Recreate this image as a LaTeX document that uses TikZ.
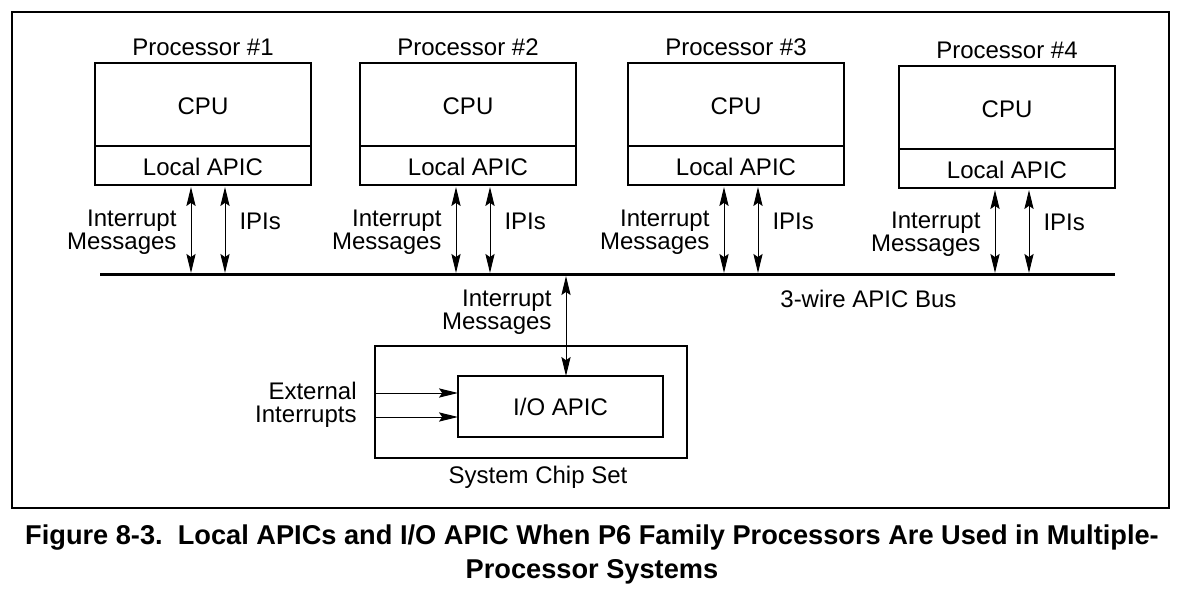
\documentclass[tikz,border=0pt]{standalone}
\usepackage{fontspec}
\setmainfont{Liberation Sans}
\usetikzlibrary{arrows.meta}
\usetikzlibrary{positioning}
\tikzset{
	box/.style={draw,line width=0.65pt,minimum width=108pt,inner sep=0pt,outer sep=0pt,
		font=\fontsize{12}{13}\selectfont},
	lbl/.style={inner sep=0pt,align=right,font=\fontsize{12}{11.5}\selectfont},
	biarrow/.style={line width=0.5pt,
		{Stealth[length=9.5pt,width=4.6pt,inset=1.6pt]}-{Stealth[length=9.5pt,width=4.6pt,inset=1.6pt]}},
	inarrow/.style={line width=0.5pt,-{Stealth[length=9.5pt,width=4.6pt,inset=1.6pt]}}
}

\begin{document}
\begin{tikzpicture}[x=0.5pt,y=-0.5pt]
	\useasboundingbox (0,0) rectangle (1178,610);
	\draw[line width=0.75pt] (12,12) rectangle (1169,508);
	
	% the bus
	\coordinate (busL) at (100,274.5);
	\coordinate (busR) at (1115,274.5);
	\draw[line width=1.7pt] (busL) -- (busR);
	\node[lbl,anchor=west] (buslbl) at (780,299) {3-wire APIC Bus};
	
	% processors
	\foreach \n/\px/\py in {1/95/63,2/360/63,3/628/63,4/899/66}{
		\node[box,minimum height=41.5pt,text height=10.5pt,text depth=0pt,anchor=north west] (cpu\n) at (\px,\py) {CPU};
		\node[box,minimum height=19.5pt,text height=10pt,text depth=0pt,anchor=north] (apic\n) at (cpu\n.south) {Local APIC};
		\node[lbl,anchor=base] (proc\n) at ([yshift=3.8pt]cpu\n.north) {Processor \#\n};
		\coordinate (ima\n) at ([xshift=-6pt,yshift=-1pt]apic\n.south);
		\coordinate (ipa\n) at ([xshift=11pt,yshift=-1pt]apic\n.south);
		\draw[biarrow,shorten >=0.8pt] (ima\n) -- (ima\n |- busL)
			node[lbl,midway,left=7pt,yshift=-0.8pt] (im\n) {Interrupt\\Messages};
		\draw[biarrow,shorten >=0.8pt] (ipa\n) -- (ipa\n |- busL)
			node[lbl,midway,anchor=west,xshift=7pt,yshift=4.7pt] (ipi\n) {IPIs};
	}
	
	% system chip set
	\node[box,minimum width=156pt,minimum height=56pt,anchor=north west] (chip) at (375,346) {};
	\node[box,minimum width=102.5pt,minimum height=30.5pt,anchor=north west] (ioapic) at (458,376) {I/O APIC};
	\node[lbl,below=4pt of chip,xshift=3.5pt] (chiplbl) {System Chip Set};
	
	\coordinate (ioin) at ([xshift=2.75pt]ioapic.north);
	\draw[biarrow,shorten <=0.8pt] (ioin |- busL) -- (ioin)
		node[lbl,pos=0.36,left=7pt,yshift=-0.8pt] (imio) {Interrupt\\Messages};
	
	\coordinate (ext1) at ([yshift=6.75pt]ioapic.west);
	\coordinate (ext2) at ([yshift=-5.25pt]ioapic.west);
	\draw[inarrow] (ext1 -| chip.west) -- (ext1);
	\draw[inarrow] (ext2 -| chip.west) -- (ext2);
	\node[lbl,left=9pt of chip.west,yshift=-1.6pt] (extlbl) {External\\Interrupts};
	
	% caption
	\node[align=center,inner sep=0pt,font=\fontsize{13.6}{17}\selectfont\bfseries] (caption) at (592,554)
		{Figure 8-3.\ \ Local APICs and I/O APIC When P6 Family Processors Are Used in Multiple-\\Processor Systems};
\end{tikzpicture}
\end{document}
